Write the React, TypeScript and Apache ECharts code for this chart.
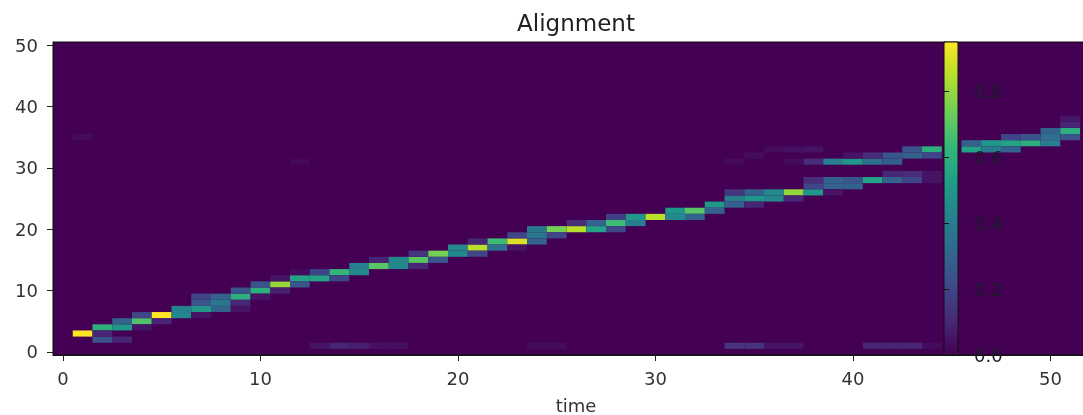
import React, { useEffect, useRef } from "react";
import * as echarts from "echarts";

const titleText = "Alignment";
const xName = "time";
const xTicks = [0, 10, 20, 30, 40, 50];
const yTicks = [0, 10, 20, 30, 40, 50];
const barTicks = [0, 0.2, 0.4, 0.6, 0.8];
const barMax = 0.95;
const viridis = ["#440154", "#482878", "#3e4a89", "#31688e", "#26828e", "#1f9e89", "#35b779", "#6ece58", "#b5de2b", "#fde725"];

// [time, row, weight]
const earlyCells = [
  [1,3,0.98],[2,4,0.6],[2,2,0.25],[2,3,0.1],[3,4,0.5],[3,5,0.3],[3,2,0.1],[4,5,0.68],[4,6,0.2],[4,4,0.05],
  [5,6,0.95],[5,5,0.1],[6,7,0.42],[6,6,0.45],[7,7,0.5],[7,8,0.25],[7,9,0.2],[7,6,0.05],[8,9,0.3],[8,8,0.38],[8,7,0.3],
  [9,9,0.6],[9,10,0.25],[9,8,0.1],[9,7,0.05],[10,10,0.6],[10,11,0.25],[10,9,0.05],[11,11,0.8],[11,10,0.08],[11,12,0.05],
  [12,12,0.55],[12,11,0.25],[12,13,0.03],[13,12,0.55],[13,13,0.2],[14,13,0.62],[14,12,0.2],[15,14,0.4],[15,13,0.45],
];
const middleCells = [
  [16,14,0.7],[16,15,0.1],[17,15,0.45],[17,14,0.45],[18,15,0.7],[18,16,0.15],[18,14,0.1],[19,16,0.75],[19,15,0.25],
  [20,17,0.45],[20,16,0.45],[21,17,0.85],[21,18,0.1],[21,16,0.2],[22,18,0.65],[22,17,0.35],[23,18,0.9],[23,19,0.2],[23,17,0.05],
  [24,20,0.38],[24,19,0.38],[24,18,0.3],[25,20,0.75],[25,19,0.2],[26,20,0.85],[26,21,0.12],[27,20,0.55],[27,21,0.3],
  [28,21,0.65],[28,22,0.18],[28,20,0.2],[29,22,0.5],[29,21,0.4],[30,22,0.85],[31,23,0.5],[31,22,0.45],[32,23,0.7],[32,22,0.3],
];
const lateCells = [
  [33,24,0.5],[33,23,0.3],[34,25,0.4],[34,24,0.3],[34,26,0.15],[35,25,0.5],[35,26,0.3],[35,24,0.1],[36,26,0.45],[36,25,0.45],
  [37,26,0.8],[37,25,0.1],[38,26,0.5],[38,27,0.2],[38,28,0.12],[39,27,0.3],[39,28,0.3],[39,26,0.05],[40,27,0.3],[40,28,0.25],
  [41,28,0.55],[42,28,0.3],[42,29,0.1],[43,28,0.2],[43,29,0.12],[44,28,0.05],[44,29,0.05],
];
const upperBranchCells = [
  [38,31,0.12],[38,33,0.05],[39,31,0.4],[40,31,0.5],[40,32,0.05],[41,31,0.35],[41,32,0.12],[42,31,0.28],[42,32,0.25],
  [43,32,0.3],[43,33,0.25],[44,33,0.6],[44,32,0.2],[46,33,0.55],[46,34,0.3],[47,34,0.5],[47,33,0.4],
  [48,34,0.55],[48,33,0.3],[48,35,0.2],[49,34,0.6],[49,35,0.25],[50,35,0.35],[50,36,0.3],[50,34,0.4],
  [51,36,0.6],[51,35,0.25],[51,37,0.1],[51,38,0.06],
];
const faintCells = [
  [13,1,0.05],[14,1,0.1],[15,1,0.08],[16,1,0.04],[17,1,0.04],[24,1,0.03],[25,1,0.03],
  [34,1,0.14],[35,1,0.14],[36,1,0.05],[37,1,0.05],[41,1,0.1],[42,1,0.1],[43,1,0.1],[44,1,0.03],
  [1,35,0.03],[12,31,0.02],[34,31,0.03],[35,32,0.03],[36,33,0.03],[37,33,0.04],[37,31,0.03],
];
const allCells = [...earlyCells, ...middleCells, ...lateCells, ...upperBranchCells, ...faintCells];

export default function App() {
  const ref = useRef<HTMLDivElement>(null);
  useEffect(() => {
    const chart = echarts.init(ref.current!, null, { renderer: "svg" });
    const font = "DejaVu Sans";
    chart.setOption({
      animation: false,
      backgroundColor: "#ffffff",
      title: {
        text: titleText,
        left: 576,
        top: 11,
        textAlign: "center",
        padding: 0,
        textStyle: { fontFamily: font, fontSize: 23, fontWeight: "normal", color: "#222" },
      },
      grid: [
        { left: 53, top: 42, width: 1046, height: 313, show: true, outerBoundsMode: "none", backgroundColor: "#440154", borderColor: "#111", borderWidth: 1 },
        { left: 944, top: 42, width: 14, height: 313, show: true, outerBoundsMode: "none", backgroundColor: "transparent", borderColor: "#111", borderWidth: 1, z: 6 },
      ],
      xAxis: [
        {
          type: "value",
          gridIndex: 0,
          min: -0.5,
          max: 52.46,
          name: xName,
          nameLocation: "middle",
          nameGap: 41,
          nameTextStyle: { fontFamily: font, fontSize: 18, color: "#333" },
          splitLine: { show: false },
          axisLine: { show: true, onZero: false, lineStyle: { color: "#111" } },
          axisTick: { show: true, length: 6, customValues: xTicks, lineStyle: { color: "#222" } },
          axisLabel: { customValues: xTicks, fontFamily: font, fontSize: 18, color: "#333", margin: 14 },
        },
        { type: "value", gridIndex: 1, min: 0, max: 1, show: false },
      ],
      yAxis: [
        {
          type: "value",
          gridIndex: 0,
          min: -0.5,
          max: 50.5,
          splitLine: { show: false },
          axisLine: { show: true, onZero: false, lineStyle: { color: "#111" } },
          axisTick: { show: true, length: 6, customValues: yTicks, lineStyle: { color: "#222" } },
          axisLabel: { customValues: yTicks, fontFamily: font, fontSize: 18, color: "#333", margin: 15 },
        },
        {
          type: "value",
          gridIndex: 1,
          position: "right",
          min: 0,
          max: barMax,
          z: 7,
          splitLine: { show: false },
          axisLine: { show: false },
          axisTick: { show: true, length: 5, customValues: barTicks, lineStyle: { color: "#111" } },
          axisLabel: {
            customValues: barTicks,
            fontFamily: font,
            fontSize: 18,
            color: "#1a1a2a",
            margin: 16,
            formatter: (v: number) => v.toFixed(1),
          },
        },
      ],
      visualMap: {
        type: "continuous",
        seriesIndex: 0,
        dimension: 2,
        min: 0,
        max: barMax,
        left: 944,
        top: 42,
        padding: 0,
        itemWidth: 14,
        itemHeight: 313,
        calculable: false,
        hoverLink: false,
        z: 5,
        inRange: { color: viridis },
      },
      series: [
        {
          type: "custom",
          xAxisIndex: 0,
          yAxisIndex: 0,
          data: allCells,
          encode: { x: 0, y: 1 },
          clip: true,
          renderItem: (_p: any, api: any) => {
            const a = api.coord([api.value(0) - 0.5, api.value(1) + 0.5]);
            const s = api.size([1, 1]);
            return {
              type: "rect",
              shape: { x: a[0], y: a[1], width: s[0], height: s[1] },
              style: { fill: api.visual("color") },
            };
          },
        },
      ],
    });
    return () => chart.dispose();
  }, []);
  return (
    <div
      ref={ref}
      style={{ position: "absolute", left: 0, top: 0, width: 1083, height: 415, overflow: "hidden", filter: "blur(0.7px)" }}
    />
  );
}
